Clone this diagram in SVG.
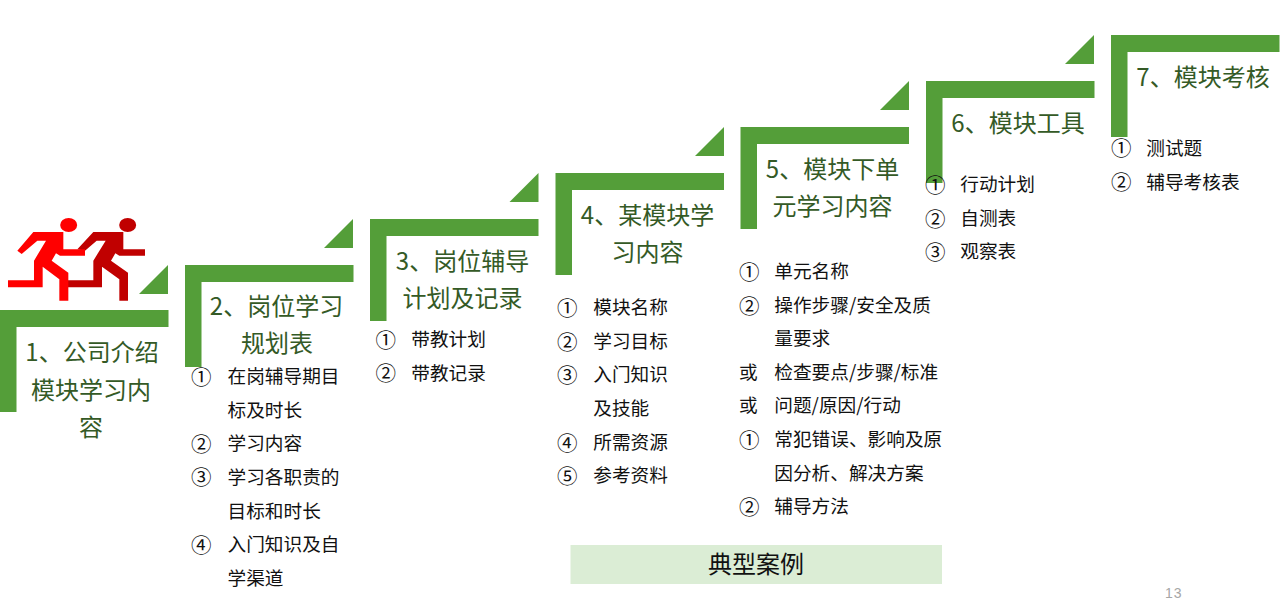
<svg xmlns="http://www.w3.org/2000/svg" width="1280" height="601" viewBox="0 0 1280 601">
<style>
.b{fill:#549e39}
text{font-family:"Microsoft YaHei","Noto Sans CJK SC",sans-serif}
.h{font-size:24px;fill:#345a26;text-anchor:middle}
.t{font-size:18.67px;fill:#111}
.n{font-size:20.500px;fill:#111}
</style>
<defs>
<path id="step" class="b" d="M0,0H168.500V17H16.500V102H0Z"/>
<path id="tri" class="b" d="M0,29L29,0V29Z"/>
</defs>
<rect width="1280" height="601" fill="#fff"/>
<g id="runners" transform="translate(0,210) scale(.33333)">
<g fill="#c00000">
<ellipse cx="383" cy="45" rx="25.500" ry="21"/>
<path d="M280,66H370V118H435V137H358L346,130L333,152L384,188V272H358V208L306,170V232H204V211H280V152L317,92H290L255,122L232,118Z"/>
</g>
<g fill="#ff0000">
<ellipse cx="206" cy="45" rx="25.500" ry="21"/>
<path d="M100,66H190V118H255V137H180L168,130L155,152L205,188V272H178V208L128,170V232H24V211H102V152L138,92H112L65,132L52,122Z"/>
</g>
</g>
<g id="s1"><use href="#step" x="0" y="310"/><use href="#tri" x="139" y="265"/>
<text class="h" x="92" y="361">1、公司介绍</text><text class="h" x="91" y="399">模块学习内</text><text class="h" x="91" y="436">容</text></g>
<g id="s2"><use href="#step" x="185" y="265"/><use href="#tri" x="324" y="219"/>
<text class="h" x="276.500" y="315">2、岗位学习</text><text class="h" x="277" y="352">规划表</text>
<text class="n" x="191" y="385">①</text><text class="t" x="227.500" y="383">在岗辅导期目</text><text class="t" x="227.500" y="417">标及时长</text>
<text class="n" x="191" y="452">②</text><text class="t" x="227.500" y="450">学习内容</text>
<text class="n" x="191" y="485">③</text><text class="t" x="227.500" y="484">学习各职责的</text><text class="t" x="227.500" y="518">目标和时长</text>
<text class="n" x="191" y="553">④</text><text class="t" x="227.500" y="551">入门知识及自</text><text class="t" x="227.500" y="585">学渠道</text></g>
<g id="s3"><use href="#step" x="370" y="219"/><use href="#tri" x="509.500" y="173"/>
<text class="h" x="462.500" y="270">3、岗位辅导</text><text class="h" x="462.500" y="307">计划及记录</text>
<text class="n" x="375.500" y="348">①</text><text class="t" x="411.300" y="346">带教计划</text>
<text class="n" x="375.500" y="381">②</text><text class="t" x="411.300" y="380">带教记录</text></g>
<g id="s4"><use href="#step" x="555.500" y="173"/><use href="#tri" x="695" y="127"/>
<text class="h" x="647.500" y="224">4、某模块学</text><text class="h" x="647.500" y="261">习内容</text>
<text class="n" x="557" y="316">①</text><text class="t" x="593.300" y="314">模块名称</text>
<text class="n" x="557" y="350">②</text><text class="t" x="593.300" y="348">学习目标</text>
<text class="n" x="557" y="383">③</text><text class="t" x="593.300" y="381">入门知识</text><text class="t" x="593.300" y="415">及技能</text>
<text class="n" x="557" y="451">④</text><text class="t" x="593.300" y="449">所需资源</text>
<text class="n" x="557" y="484">⑤</text><text class="t" x="593.300" y="482">参考资料</text></g>
<g id="s5"><use href="#step" x="740.500" y="127"/><use href="#tri" x="880" y="81"/>
<text class="h" x="832.500" y="178">5、模块下单</text><text class="h" x="832.500" y="215">元学习内容</text>
<text class="n" x="739" y="280">①</text><text class="t" x="774.300" y="278">单元名称</text>
<text class="n" x="739" y="314">②</text><text class="t" x="774.300" y="312">操作步骤/安全及质</text><text class="t" x="774.300" y="345">量要求</text>
<text class="t" x="739" y="379">或</text><text class="t" x="774.300" y="379">检查要点/步骤/标准</text>
<text class="t" x="739" y="412">或</text><text class="t" x="774.300" y="412">问题/原因/行动</text>
<text class="n" x="739" y="448">①</text><text class="t" x="774.300" y="446">常犯错误、影响及原</text><text class="t" x="774.300" y="480">因分析、解决方案</text>
<text class="n" x="739" y="515">②</text><text class="t" x="774.300" y="513">辅导方法</text></g>
<g id="s6"><use href="#step" x="926" y="81"/><use href="#tri" x="1065" y="35"/>
<text class="h" x="1018" y="132">6、模块工具</text>
<text class="n" x="925" y="193">①</text><text class="t" x="960.300" y="191">行动计划</text>
<text class="n" x="925" y="227">②</text><text class="t" x="960.300" y="225">自测表</text>
<text class="n" x="925" y="260">③</text><text class="t" x="960.300" y="258">观察表</text></g>
<g id="s7"><use href="#step" x="1111" y="35"/>
<text class="h" x="1203" y="86">7、模块考核</text>
<text class="n" x="1111" y="156">①</text><text class="t" x="1146.300" y="155">测试题</text>
<text class="n" x="1111" y="190">②</text><text class="t" x="1146.300" y="189">辅导考核表</text></g>
<g id="case"><rect x="570.500" y="545" width="371.500" height="39" fill="#dbedd5"/>
<text x="756" y="573" font-size="24" fill="#111" text-anchor="middle">典型案例</text></g>
<text id="page" x="1165" y="598" style="font-family:'Liberation Sans',sans-serif" font-size="14" letter-spacing="1" fill="#a6a6a6">13</text>
</svg>
